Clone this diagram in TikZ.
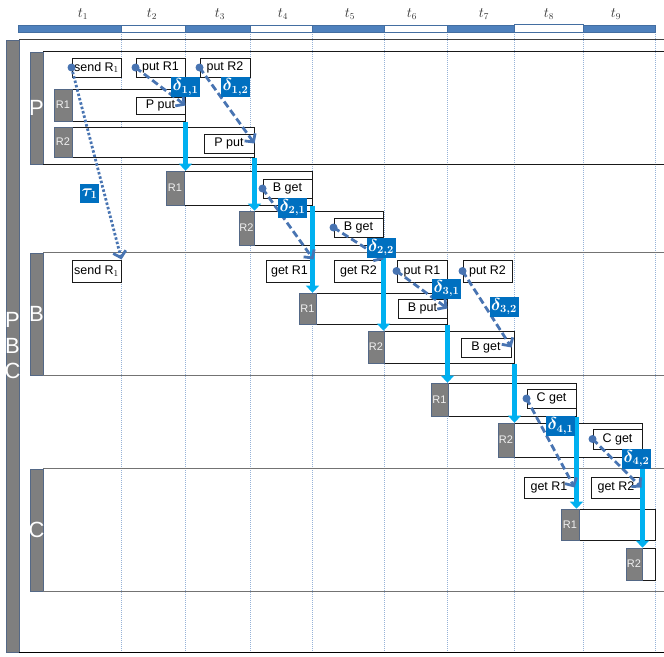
\documentclass[tikz,border=0pt]{standalone}
\usepackage{amssymb, amsmath}
\usepackage{fontspec}
\setmainfont{Liberation Sans}
\usepackage{tikz}
\usetikzlibrary{positioning, arrows.meta, backgrounds}
\definecolor{barblue}{RGB}{79,129,189}
\definecolor{flowcyan}{RGB}{0,176,240}
\definecolor{dltblue}{RGB}{0,112,192}
\definecolor{msgblue}{RGB}{72,116,178}
\definecolor{taggray}{RGB}{127,127,127}
\definecolor{tagedge}{RGB}{84,104,134}
\definecolor{gridblue}{RGB}{150,178,215}
\tikzstyle{grid}=[gridblue, line width=0.9pt, dash pattern=on 1pt off 1pt]
\tikzstyle{seg}=[draw=barblue!85!black, line width=0.8pt]
\tikzstyle{tlbl}=[inner sep=0pt, text=black!80, font=\fontsize{13.5}{13.5}\selectfont]
\tikzstyle{bar}=[draw=tagedge, fill=taggray, inner sep=0pt, minimum width=13, line width=0.7pt]
\tikzstyle{barlbl}=[inner sep=0pt, text=white, font=\fontsize{22}{25.5}\selectfont]
\tikzstyle{pline}=[black!90, line width=1pt]
\tikzstyle{gline}=[black!55, line width=1.5pt]
\tikzstyle{tag}=[draw=tagedge, fill=taggray, inner sep=0pt, line width=0.7pt, text=white!88!gray, font=\fontsize{11}{11}\selectfont]
\tikzstyle{lane}=[draw=black!90, fill=white, inner sep=0pt, line width=1pt]
\tikzstyle{txt}=[draw=black!90, fill=white, inner sep=0pt, line width=1pt, minimum height=19, font=\fontsize{12.5}{12.5}\selectfont]
\tikzstyle{flow}=[flowcyan, line width=5.8pt, -{Triangle[width=13pt, length=7pt]}]
\tikzstyle{msg}=[msgblue, line width=2.8pt, dash pattern=on 7pt off 3.5pt, -{Straight Barb[width=13pt, length=6pt]}]
\tikzstyle{taumsg}=[msgblue, line width=2.8pt, dash pattern=on 2.5pt off 2pt, -{Straight Barb[width=13pt, length=6pt]}]
\tikzstyle{dlt}=[fill=dltblue, text=white, inner sep=0pt, minimum width=29, minimum height=20, font=\fontsize{16}{16}\selectfont\boldmath]
\tikzset{>=stealth}

\begin{document}
\begin{tikzpicture}[x=1pt, y=-1pt]
\useasboundingbox (0,0) rectangle (664,656);
\coordinate (rgt) at (664,0);
% the grid lines
\begin{scope}[on background layer]
\draw[grid] (121,32) -- (121,652);
\draw[grid] (185,32) -- (185,652);
\draw[grid] (250,32) -- (250,652);
\draw[grid] (312,32) -- (312,652);
\draw[grid] (384,32) -- (384,652);
\draw[grid] (447,32) -- (447,652);
\draw[grid] (514,32) -- (514,652);
\draw[grid] (583,32) -- (583,652);
\draw[grid] (655,32) -- (655,652);
\end{scope}
% the time bar
\draw[seg, fill=barblue] (18,25) rectangle (121,32);
\draw[seg, fill=white] (121,25) rectangle (185,32);
\draw[seg, fill=barblue] (185,25) rectangle (250,32);
\draw[seg, fill=white] (250,25) rectangle (312,32);
\draw[seg, fill=barblue] (312,25) rectangle (384,32);
\draw[seg, fill=white] (384,25) rectangle (447,32);
\draw[seg, fill=barblue] (447,25) rectangle (514,32);
\draw[seg, fill=white] (514,24) rectangle (583,32);
\draw[seg, fill=barblue] (583,25) rectangle (655,32);
\node[tlbl] (t1) at (83,14) {$t_1$};
\node[tlbl] (t2) at (152,14) {$t_2$};
\node[tlbl] (t3) at (220,14) {$t_3$};
\node[tlbl] (t4) at (283,14) {$t_4$};
\node[tlbl] (t5) at (350,14) {$t_5$};
\node[tlbl] (t6) at (412,14) {$t_6$};
\node[tlbl] (t7) at (484,14) {$t_7$};
\node[tlbl] (t8) at (549,14) {$t_8$};
\node[tlbl] (t9) at (616,14) {$t_9$};
% the bars
\node[bar, minimum height=612, label={[barlbl, align=center]center:P\\B\\C}] (pbc) at (12.5,346) {};
\node[bar, minimum height=112, label={[barlbl]center:P}] (pbar) at (36.5,108) {};
\node[bar, minimum height=122, label={[barlbl]center:B}] (bbar) at (36.5,314) {};
\node[bar, minimum height=122, label={[barlbl]center:C}] (cbar) at (36.5,530) {};
\draw[black!75, line width=1pt] (pbc.north east) -- (pbc.north east -| rgt);
\draw[black, line width=1.1pt] (pbc.south east) -- (pbc.south east -| rgt);
\draw[pline] (pbar.north east) -- (pbar.north east -| rgt);
\draw[pline] (pbar.south east) -- (pbar.south east -| rgt);
\draw[gline] (bbar.north east) -- (bbar.north east -| rgt);
\draw[gline] (bbar.south east) -- (bbar.south east -| rgt);
\draw[gline] (cbar.north east) -- (cbar.north east -| rgt);
\draw[gline] (cbar.south east) -- (cbar.south east -| rgt);
% the lanes
\node[lane, minimum width=113, minimum height=32] (pla) at (128.5,105) {};
\node[tag, minimum width=18, minimum height=32] (pta) at (63,105) {R1};
\node[lane, minimum width=182, minimum height=30] (plb) at (163,142) {};
\node[tag, minimum width=18, minimum height=30] (ptb) at (63,142) {R2};
\node[lane, minimum width=128, minimum height=34] (mla) at (248,188) {};
\node[tag, minimum width=18, minimum height=34] (mta) at (175,188) {R1};
\node[lane, minimum width=129, minimum height=34] (mlb) at (318.5,228) {};
\node[tag, minimum width=15, minimum height=34] (mtb) at (246.5,228) {R2};
\node[lane, minimum width=131, minimum height=31] (bla) at (381.5,308.5) {};
\node[tag, minimum width=17, minimum height=31] (bta) at (307.5,308.5) {R1};
\node[lane, minimum width=130, minimum height=32] (blb) at (449,347) {};
\node[tag, minimum width=16, minimum height=32] (btb) at (376,347) {R2};
\node[lane, minimum width=128, minimum height=33] (nla) at (512,399.5) {};
\node[tag, minimum width=17, minimum height=33] (nta) at (439.5,399.5) {R1};
\node[lane, minimum width=128, minimum height=34] (nlb) at (578,440) {};
\node[tag, minimum width=16, minimum height=34] (ntb) at (506,440) {R2};
\node[lane, minimum width=76, minimum height=31] (cla) at (617,524.5) {};
\node[tag, minimum width=18, minimum height=31] (cta) at (570,524.5) {R1};
\node[lane, minimum width=13, minimum height=32] (clb) at (648.5,564) {};
\node[tag, minimum width=16, minimum height=32] (ctb) at (634,564) {R2};
% the operations
\node[txt, minimum width=49] (sendp) at (96.5,67.5) {send R$_1$};
\node[txt, minimum width=49] (putpa) at (160.5,67.5) {put R1};
\node[txt, minimum width=50] (putpb) at (225,67.5) {put R2};
\node[txt, minimum width=49, minimum height=17] (pputa) at (160.5,105.5) {P put};
\node[txt, minimum width=50] (pputb) at (229,143.5) {P put};
\node[txt, minimum width=49] (bgeta) at (287.5,188.5) {B get};
\node[txt, minimum width=49] (bgetb) at (358.5,227.5) {B get};
\node[txt, minimum width=49, minimum height=22] (sendb) at (96.5,271) {send R$_1$};
\node[txt, minimum width=47, minimum height=22] (getba) at (289.5,271) {get R1};
\node[txt, minimum width=49, minimum height=22] (getbb) at (358.5,271) {get R2};
\node[txt, minimum width=50, minimum height=22] (putba) at (422,271) {put R1};
\node[txt, minimum width=49, minimum height=22] (putbb) at (487.5,271) {put R2};
\node[txt, minimum width=49] (bputa) at (422.5,308.5) {B put};
\node[txt, minimum width=50] (bgetc) at (486,347.5) {B get};
\node[txt, minimum width=49] (cgeta) at (551.5,398.5) {C get};
\node[txt, minimum width=49, minimum height=20] (cgetb) at (617.5,439) {C get};
\node[txt, minimum width=50, minimum height=21] (getca) at (549,487.5) {get R1};
\node[txt, minimum width=50, minimum height=21] (getcb) at (616,487.5) {get R2};
% the flows
\draw[flow] (pla.south east) -- (pla.south east |- mta.north);
\draw[flow] (plb.south east) -- (plb.south east |- mtb.north);
\draw[flow] (mla.south east) -- (mla.south east |- bta.north);
\draw[flow] (mlb.south east) -- (mlb.south east |- btb.north);
\draw[flow] (bla.south east) -- (bla.south east |- nta.north);
\draw[flow] (blb.south east) -- (blb.south east |- ntb.north);
\draw[flow] (nla.south east) -- (nla.south east |- cta.north);
\draw[flow] (nlb.south east) -- (nlb.south east |- ctb.north);
% the messages
\draw[taumsg] (sendp.west) -- (sendb.north east);
\draw[msg] (putpa.west) -- (pputa.east);
\draw[msg] (putpb.west) -- (pputb.east);
\draw[msg] (bgeta.west) -- (getba.north east);
\draw[msg] (bgetb.west) -- (getbb.north east);
\draw[msg] (putba.west) -- (bputa.east);
\draw[msg] (putbb.west) -- (bgetc.east);
\draw[msg] (cgeta.west) -- (getca.east);
\draw[msg] (cgetb.west) -- (getcb.east);
\fill[msgblue] (sendp.west) circle (4pt);
\fill[msgblue] (putpa.west) circle (4pt);
\fill[msgblue] (putpb.west) circle (4pt);
\fill[msgblue] (bgeta.west) circle (4pt);
\fill[msgblue] (bgetb.west) circle (4pt);
\fill[msgblue] (putba.west) circle (4pt);
\fill[msgblue] (putbb.west) circle (4pt);
\fill[msgblue] (cgeta.west) circle (4pt);
\fill[msgblue] (cgetb.west) circle (4pt);
% the delays
\node[dlt, minimum width=19, minimum height=19] (tau) at (89.5,193.5) {$\tau_1$};
\node[dlt] (d11) at (185.5,87) {$\delta_{1,1}$};
\node[dlt] (d12) at (235.5,87) {$\delta_{1,2}$};
\node[dlt] (d21) at (292.5,207.5) {$\delta_{2,1}$};
\node[dlt] (d22) at (381,247.5) {$\delta_{2,2}$};
\node[dlt] (d31) at (446.5,288.5) {$\delta_{3,1}$};
\node[dlt] (d32) at (504,306.5) {$\delta_{3,2}$};
\node[dlt] (d41) at (560.5,426) {$\delta_{4,1}$};
\node[dlt] (d42) at (636.5,458.5) {$\delta_{4,2}$};
\end{tikzpicture}
\end{document}
